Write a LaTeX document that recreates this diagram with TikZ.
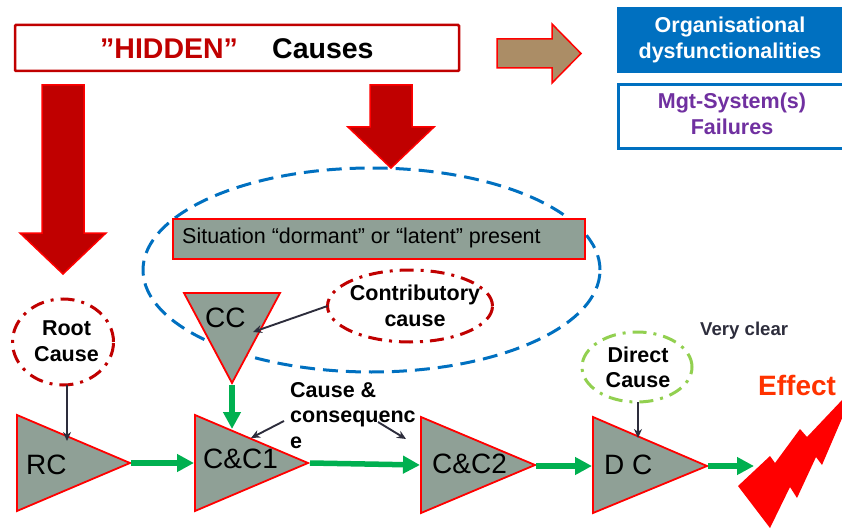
\documentclass[tikz,border=0pt]{standalone}
\usepackage{fontspec}
\setmainfont{Liberation Sans}
\usetikzlibrary{arrows.meta,shapes.geometric}
\definecolor{dred}{RGB}{192,0,0}
\definecolor{bred}{RGB}{255,0,0}
\definecolor{trifill}{RGB}{143,160,150}
\definecolor{flowgreen}{RGB}{0,176,80}
\definecolor{orgblue}{RGB}{0,112,192}
\definecolor{mgtpurple}{RGB}{112,48,160}
\definecolor{lightgreen}{RGB}{146,208,80}
\definecolor{tanbrown}{RGB}{171,141,102}
\definecolor{darkgray}{RGB}{45,45,60}
\definecolor{effectred}{RGB}{255,51,0}
\begin{document}
\begin{tikzpicture}[x=1pt,y=-1pt,
  tribox/.style={fill=trifill, draw=bred, line width=1.8pt, line join=miter},
  bigarrow/.style={fill=dred, draw=bred, line width=1.5pt, line join=miter},
  flow/.style={draw=flowgreen, line width=5.5pt, -{Triangle[length=17pt,width=17pt]}},
  pointer/.style={draw=darkgray, line width=1.9pt, -{Stealth[length=9pt,width=8pt]}},
  lbl/.style={font=\fontsize{21.5}{26}\selectfont\bfseries, inner sep=0, anchor=base},
  lblw/.style={lbl, anchor=base west},
  trilbl/.style={font=\fontsize{28}{32}\selectfont, inner sep=0, anchor=base west},
  dashdot/.style={dash pattern=on 14pt off 7pt on 3pt off 7pt, line width=3pt},
  oval/.style={ellipse, inner sep=0, outer sep=0},
]
\useasboundingbox (0,0) rectangle (842,529);

% ---- HIDDEN causes box
\node[draw=dred, line width=2.5pt, rounded corners=1pt, minimum width=444pt, minimum height=46pt, inner sep=0] (hidden) at (237,48) {};
\node[font=\fontsize{28.5}{32}\selectfont\bfseries, text=dred, inner sep=0, anchor=base west] (hiddenword) at (100,59) {”HIDDEN”};
\node[font=\fontsize{28.5}{32}\selectfont\bfseries, inner sep=0, anchor=base west] (causesword) at (272,59) {Causes};

% ---- brown arrow
\filldraw[fill=tanbrown, draw=bred, line width=1.5pt, line join=miter]
  (497,39) -- (552,39) -- (552,24) -- (581,53.5) -- (552,83) -- (552,68) -- (497,68) -- cycle;

% ---- big red down arrows
\filldraw[bigarrow] (42,85) -- (84,85) -- (84,233) -- (106,233) -- (63,274) -- (20,233) -- (42,233) -- cycle;
\filldraw[bigarrow] (370,85) -- (412,85) -- (412,127) -- (434,127) -- (391,168) -- (348,127) -- (370,127) -- cycle;

% ---- right boxes
\node[fill=orgblue, draw=orgblue, line width=1pt, minimum width=227pt, minimum height=65pt, inner sep=0, anchor=north west] (org) at (617,7) {};
\node[lbl, text=white] (org1) at (730,33) {Organisational};
\node[lbl, text=white] (org2) at (730,59) {dysfunctionalities};
\node[draw=orgblue, line width=3pt, fill=white, minimum width=227pt, minimum height=64pt, inner sep=0, anchor=north west] (mgt) at (617,83) {};
\node[lbl, text=mgtpurple] (mgt1) at (732,109) {Mgt-System(s)};
\node[lbl, text=mgtpurple] (mgt2) at (732,135) {Failures};

% ---- dashed blue ellipse
\node[oval, draw=orgblue, line width=3pt, dash pattern=on 15pt off 8pt, minimum width=457pt, minimum height=204pt] (latent) at (371.5,270) {};

% ---- situation box
\node[fill=trifill, draw=bred, line width=2pt, minimum width=412pt, minimum height=40pt, inner sep=0, anchor=north west] (situation) at (172,218) {};
\node[font=\fontsize{21.5}{26}\selectfont, inner sep=0, anchor=base west] (situationtext) at (182,243) {Situation “dormant” or “latent” present};

% ---- triangles
\filldraw[tribox] (184,293) -- (280,293) -- (232,383) -- cycle;
\coordinate (cctip) at (232,385);
\node[trilbl] (cclbl) at (205,327) {CC};

\filldraw[tribox] (17,415) -- (130,463) -- (17,511) -- cycle;
\coordinate (rctip) at (131,463);
\node[trilbl] (rclbl) at (26,474) {RC};

\filldraw[tribox] (195,415) -- (308,463) -- (195,511) -- cycle;
\coordinate (cc1in) at (194,463);
\coordinate (cc1top) at (232,429);
\coordinate (cc1tip) at (310,463);
\node[trilbl] (cc1lbl) at (203,468) {C\&C1};

\filldraw[tribox] (421,417) -- (535,465) -- (421,513) -- cycle;
\coordinate (cc2in) at (420,465);
\coordinate (cc2tip) at (536,466);
\node[trilbl] (cc2lbl) at (432,473) {C\&C2};

\filldraw[tribox] (593,417) -- (707,466) -- (593,513) -- cycle;
\coordinate (dcin) at (592,466);
\coordinate (dctip) at (708,466);
\node[trilbl] (dclbl) at (604,474) {D C};

% ---- effect bolt
\fill[bred] (738,486) -- (770,456) -- (775,463) -- (800,429) -- (807,437) -- (843,399)
  -- (843,416) -- (822,465) -- (816,457) -- (797,498) -- (790,487) -- (770,528) -- cycle;
\coordinate (effectin) at (754,466);
\node[font=\fontsize{28}{32}\selectfont\bfseries, text=effectred, inner sep=0, anchor=base west] (effect) at (758,395) {Effect};

% ---- green flow arrows
\draw[flow] (rctip) -- (cc1in);
\draw[flow] (cctip) -- (cc1top);
\draw[flow] (cc1tip) -- (cc2in);
\draw[flow] (cc2tip) -- (dcin);
\draw[flow] (dctip) -- (effectin);

% ---- Root cause
\node[oval, draw=dred, dashdot, minimum width=101pt, minimum height=86pt] (root) at (63,342) {};
\node[lbl] (root1) at (66.5,335) {Root};
\node[lbl] (root2) at (66.5,361) {Cause};
\coordinate (rcin) at (67,441);
\draw[pointer] (root.south -| rcin) -- (rcin);

% ---- Contributory cause
\node[oval, draw=dred, dashdot, minimum width=165pt, minimum height=72pt] (contrib) at (410,306) {};
\node[lbl] (contrib1) at (415,300) {Contributory};
\node[lbl] (contrib2) at (415,326) {cause};
\coordinate (ccin) at (253,332);
\draw[pointer] (contrib.west) -- (ccin);

% ---- Cause & consequence
\node[lblw] (cq1) at (290,397) {Cause \&};
\node[lblw] (cq2) at (290,422.5) {consequenc};
\node[lblw] (cq3) at (290,448) {e};
\coordinate (cqa) at (284,421);
\coordinate (cqb) at (251,438);
\coordinate (cqc) at (378,422);
\coordinate (cqd) at (406,439);
\draw[pointer] (cqa) -- (cqb);
\draw[pointer] (cqc) -- (cqd);

% ---- Direct cause
\node[oval, draw=lightgreen, dashdot, minimum width=110pt, minimum height=70pt] (direct) at (637,367) {};
\node[lbl] (direct1) at (638,362) {Direct};
\node[lbl] (direct2) at (638,387) {Cause};
\coordinate (dcdown) at (638,438);
\draw[pointer] (direct.south -| dcdown) -- (dcdown);

\node[font=\fontsize{18.6}{22}\selectfont\bfseries, text=darkgray, inner sep=0, anchor=base west] (veryclear) at (700,335) {Very clear};
\end{tikzpicture}
\end{document}
